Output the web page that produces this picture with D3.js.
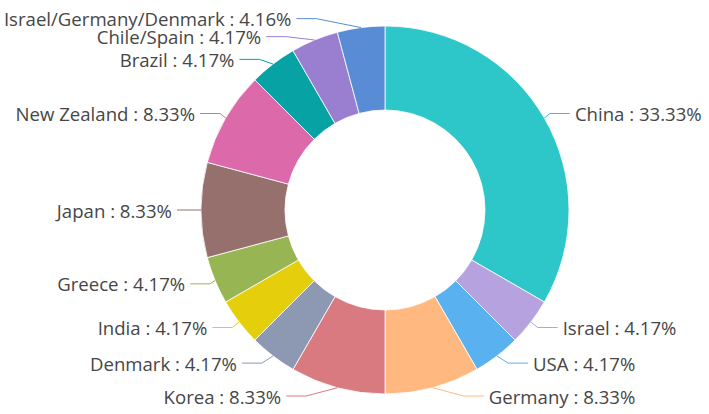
<!DOCTYPE html>
<html><head><meta charset="utf-8">
<script src="https://cdn.jsdelivr.net/npm/d3@7"></script>
<style>html,body{margin:0;padding:0;background:#fff;} svg{display:block}</style>
</head><body><svg id="c" width="709" height="414"></svg>
<script>
const categories = ["China","Israel","USA","Germany","Korea","Denmark","India","Greece","Japan","New Zealand","Brazil","Chile/Spain","Israel/Germany/Denmark"];
const values = [8,1,1,2,2,1,1,1,2,2,1,1,1];
const percentLabels = ["33.33%","4.17%","4.17%","8.33%","8.33%","4.17%","4.17%","4.17%","8.33%","8.33%","4.17%","4.17%","4.16%"];
const colors = ['#2ec7c9','#b6a2de','#5ab1ef','#ffb980','#d87a80','#8d98b3','#e5cf0d','#97b552','#95706d','#dc69aa','#07a2a4','#9a7fd1','#588dd5'];

const W = 709, H = 414, cx = 385, cy = 210, rOuter = 184, rInner = 100;
const len = 9, len2 = 20, labelDist = 5, textH = 18, fontSize = 18.6;

const svg = d3.select('#c');
const g = svg.append('g').attr('transform', `translate(${cx},${cy})`);
const data = categories.map((c, i) => ({name: c, value: values[i], pct: percentLabels[i], color: colors[i]}));
const pie = d3.pie().value(d => d.value).sort(null).startAngle(0).endAngle(2 * Math.PI);
const arcs = pie(data);
const arc = d3.arc().innerRadius(rInner).outerRadius(rOuter);

g.selectAll('path.slice').data(arcs).enter().append('path')
  .attr('class', 'slice')
  .attr('d', arc)
  .attr('fill', d => d.data.color)
  .attr('stroke', '#fff').attr('stroke-width', 0.8);

// label layout (ECharts-like)
const labels = arcs.map(a => {
  const m = (a.startAngle + a.endAngle) / 2;
  const dx = Math.sin(m), dy = -Math.cos(m);
  const sgn = dx < 0 ? -1 : 1;
  const x0 = cx + rOuter * dx, y0 = cy + rOuter * dy;
  const x1 = cx + (rOuter + len) * dx, y1 = cy + (rOuter + len) * dy;
  const x2 = x1 + sgn * len2;
  return {d: a.data, x: x2 + sgn * labelDist, y: y1, height: textH, dir: sgn,
          pts: [[x0, y0], [x1, y1], [x2, y1]]};
});

function adjustSingleSide(list, dir) {
  list.sort((a, b) => a.y - b.y);
  const n = list.length;
  function shiftDown(start, end, delta) {
    for (let j = start; j < end; j++) {
      if (list[j].y + delta > H) break;
      list[j].y += delta;
      if (j > start && j + 1 < end && list[j + 1].y > list[j].y + list[j].height) {
        shiftUp(j, delta / 2); return;
      }
    }
    shiftUp(end - 1, delta / 2);
  }
  function shiftUp(end, delta) {
    for (let j = end; j >= 0; j--) {
      if (list[j].y - delta < 0) break;
      list[j].y -= delta;
      if (j > 0 && list[j].y > list[j - 1].y + list[j - 1].height) break;
    }
  }
  let lastY = 0;
  for (let i = 0; i < n; i++) {
    const delta = list[i].y - lastY;
    if (delta < 0) shiftDown(i, n, -delta);
    lastY = list[i].y + list[i].height;
  }
  if (H - lastY < 0) shiftUp(n - 1, lastY - H);
  const up = list.filter(l => l.y < cy), down = list.filter(l => l.y >= cy);
  function changeX(arr, isDown) {
    let last = isDown ? Number.MAX_VALUE : 0;
    arr.forEach(l => {
      const dY = Math.abs(l.y - cy);
      let dX = dY < rOuter + len ? Math.sqrt((rOuter + len + len2) ** 2 - dY * dY) : Math.abs(l.x - cx);
      if (isDown && dX >= last) dX = last - 10;
      if (!isDown && dX <= last) dX = last + 10;
      l.x = cx + dX * dir;
      last = dX;
    });
  }
  changeX(up, false);
  changeX(down, true);
}
adjustSingleSide(labels.filter(l => l.dir < 0), -1);
adjustSingleSide(labels.filter(l => l.dir > 0), 1);
labels.forEach(l => {
  const dist = l.pts[1][0] - l.pts[2][0];
  l.pts[2][0] = l.x < cx ? l.x + labelDist : l.x - labelDist;
  l.pts[1][0] = l.pts[2][0] + dist;
  l.pts[1][1] = l.pts[2][1] = l.y;
});

const lab = svg.append('g');
lab.selectAll('polyline').data(labels).enter().append('polyline')
  .attr('points', l => l.pts.map(p => p.join(',')).join(' '))
  .attr('fill', 'none').attr('stroke', l => l.d.color).attr('stroke-width', 1);
lab.selectAll('text').data(labels).enter().append('text')
  .attr('x', l => l.x).attr('y', l => l.y)
  .attr('text-anchor', l => l.dir < 0 ? 'end' : 'start')
  .attr('dominant-baseline', 'central')
  .attr('font-family', '"Open Sans", "Noto Sans", sans-serif')
  .attr('font-size', fontSize).attr('fill', '#464646')
  .text(l => `${l.d.name} : ${l.d.pct}`);
</script></body></html>
